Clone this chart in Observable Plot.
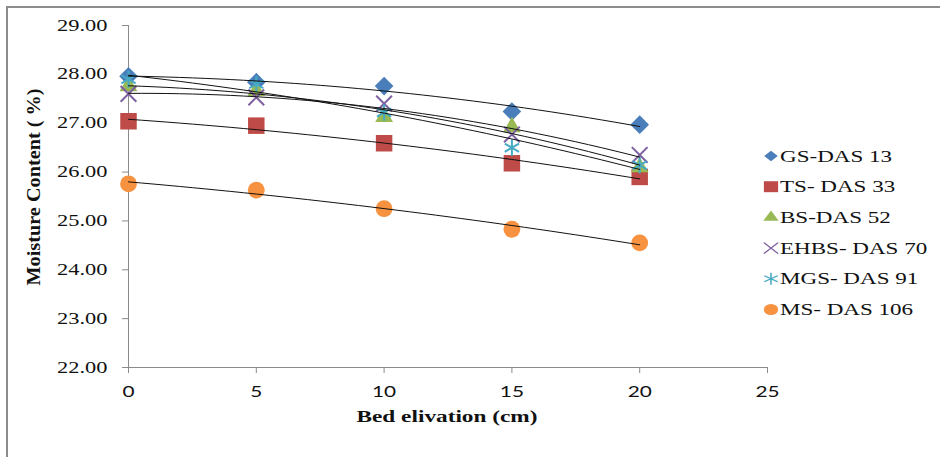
<!DOCTYPE html>
<html><head><meta charset="utf-8">
<script src="https://cdn.jsdelivr.net/npm/d3@7"></script>
<script src="https://cdn.jsdelivr.net/npm/@observablehq/plot@0.6"></script>
<style>
html,body{margin:0;padding:0;background:#fff;}
#wrap{position:relative;width:940px;height:457px;overflow:hidden;background:#fff;}
#frame{position:absolute;left:6px;top:6px;right:-10px;bottom:-10px;border-left:2px solid #8c8c8c;border-top:2px solid #8c8c8c;pointer-events:none;}
#legend{position:absolute;left:740px;top:130px;}
</style></head><body><div id="wrap"></div>
<script>
// ---- data ----
const elevation = [0, 5, 10, 15, 20];
const seriesNames = ["GS-DAS 13", "TS- DAS 33", "BS-DAS 52", "EHBS- DAS 70", "MGS- DAS 91", "MS- DAS 106"];
const gsDas13   = [27.96, 27.84, 27.76, 27.24, 26.97];
const tsDas33   = [27.04, 26.95, 26.59, 26.18, 25.90];
const bsDas52   = [27.76, 27.66, 27.13, 26.92, 26.10];
const ehbsDas70 = [27.60, 27.53, 27.40, 26.77, 26.35];
const mgsDas91  = [27.90, 27.80, 27.22, 26.50, 26.14];
const msDas106  = [25.76, 25.63, 25.25, 24.83, 24.55];
const xTicks = [0, 5, 10, 15, 20, 25];
const yTicks = [22, 23, 24, 25, 26, 27, 28, 29];
const xTitle = "Bed elivation (cm)";
const yTitle = "Moisture Content ( %)";

// ---- styles ----
const seriesValues = [gsDas13, tsDas33, bsDas52, ehbsDas70, mgsDas91, msDas106];
const styles = [
  {symbol: "diamond2", color: "#4a7ebb", r: 8.4, filled: true, d3s: d3.symbolDiamond2, ls: 70},
  {symbol: "square", color: "#be4b48", r: 9.3, filled: true, d3s: d3.symbolSquare, ls: 120},
  {symbol: "triangle", color: "#98b954", r: 6.6, filled: true, d3s: d3.symbolTriangle, ls: 60},
  {symbol: "times", color: "#7d60a0", r: 7.2, filled: false, d3s: d3.symbolTimes, ls: 80},
  {symbol: "asterisk", color: "#46aac5", r: 7.8, filled: false, d3s: d3.symbolAsterisk, ls: 100},
  {symbol: "circle", color: "#f69240", r: 8.4, filled: true, d3s: d3.symbolCircle, ls: 95}
];

const points = [];
seriesNames.forEach((name, i) => elevation.forEach((x, j) => points.push({series: name, x, y: seriesValues[i][j]})));

// polynomial (order 2) trend line, least squares, like the spreadsheet trendline
function quadFit(xs, ys) {
  const n = xs.length;
  let s = [0,0,0,0,0], t = [0,0,0];
  for (let k = 0; k < n; k++) {
    const x = xs[k], y = ys[k];
    for (let p = 0; p < 5; p++) s[p] += Math.pow(x, p);
    for (let p = 0; p < 3; p++) t[p] += Math.pow(x, p) * y;
  }
  const A = [[s[0], s[1], s[2], t[0]], [s[1], s[2], s[3], t[1]], [s[2], s[3], s[4], t[2]]];
  for (let c = 0; c < 3; c++) {
    for (let r = c + 1; r < 3; r++) {
      const f = A[r][c] / A[c][c];
      for (let k = c; k < 4; k++) A[r][k] -= f * A[c][k];
    }
  }
  const b = [0,0,0];
  for (let r = 2; r >= 0; r--) {
    let v = A[r][3];
    for (let k = r + 1; k < 3; k++) v -= A[r][k] * b[k];
    b[r] = v / A[r][r];
  }
  return x => b[0] + b[1] * x + b[2] * x * x;
}
const trend = [];
seriesNames.forEach((name, i) => {
  const f = quadFit(elevation, seriesValues[i]);
  const x0 = d3.min(elevation), x1 = d3.max(elevation);
  for (let k = 0; k <= 40; k++) { const x = x0 + (x1 - x0) * k / 40; trend.push({series: name, x, y: f(x)}); }
});

const axisColor = "#8a8a8a";
const marks = [
  Plot.ruleX([0], {y1: 22, y2: 29, stroke: axisColor, strokeWidth: 1}),
  Plot.ruleY([22], {x1: 0, x2: 25, stroke: axisColor, strokeWidth: 1}),
  Plot.axisY({ticks: yTicks, tickFormat: d => d.toFixed(2), tickSize: 6, tickPadding: 15, stroke: axisColor,
              fontSize: 16, fontFamily: "Liberation Serif", fill: "#111", label: null}),
  Plot.axisX({ticks: xTicks, tickFormat: d => String(d), tickSize: 6, tickPadding: 12, stroke: axisColor,
              fontSize: 16, fontFamily: "Lato", fill: "#111", label: null})
];
seriesNames.forEach((name, i) => {
  const st = styles[i];
  const data = points.filter(p => p.series === name);
  marks.push(Plot.dot(data, st.filled
    ? {x: "x", y: "y", symbol: st.symbol, r: st.r, fill: st.color, stroke: "none"}
    : {x: "x", y: "y", symbol: st.symbol, r: st.r, fill: "none", stroke: st.color, strokeWidth: 2}));
});
marks.push(Plot.line(trend, {x: "x", y: "y", z: "series", stroke: "#111", strokeWidth: 1}));

const chart = Plot.plot({
  width: 940, height: 457,
  marginLeft: 128, marginRight: 173, marginTop: 25, marginBottom: 90,
  x: {domain: [0, 25]},
  y: {domain: [22, 29]},
  style: {background: "#fff"},
  marks
});
const wrap = document.getElementById("wrap");
wrap.appendChild(chart);

const svg = d3.select(chart);
function stretch(sel, k) {
  sel.each(function() {
    const l = this.getComputedTextLength();
    this.setAttribute("textLength", l * k);
    this.setAttribute("lengthAdjust", "spacingAndGlyphs");
  });
}
stretch(svg.selectAll('g[aria-label="y-axis tick label"] text'), 1.4);
stretch(svg.selectAll('g[aria-label="x-axis tick label"] text'), 1.3);

// axis titles
svg.append("text").attr("x", 447).attr("y", 422).attr("text-anchor", "middle")
  .attr("font-family", "Liberation Serif").attr("font-weight", "bold").attr("font-size", 17).attr("fill", "#111")
  .attr("textLength", 181).attr("lengthAdjust", "spacingAndGlyphs").text(xTitle);
svg.append("text").attr("transform", "translate(40,187) rotate(-90)").attr("text-anchor", "middle")
  .attr("font-family", "Liberation Serif").attr("font-weight", "bold").attr("font-size", 18).attr("fill", "#111")
  .attr("textLength", 197).attr("lengthAdjust", "spacingAndGlyphs").text(yTitle);

// legend
const leg = d3.select(wrap).append("svg").attr("id", "legend").attr("width", 200).attr("height", 200);
seriesNames.forEach((name, i) => {
  const st = styles[i];
  const cy = 26 + i * 30.7;
  const g = leg.append("g").attr("transform", `translate(31,${cy}) scale(1.3,1)`);
  const p = g.append("path").attr("d", d3.symbol(st.d3s, st.ls)());
  if (st.filled) p.attr("fill", st.color); else p.attr("fill", "none").attr("stroke", st.color).attr("stroke-width", 1.2);
  const t = leg.append("text").attr("x", 40).attr("y", cy + 5.5)
    .attr("font-family", "Liberation Serif").attr("font-size", 16).attr("fill", "#111").text(name);
  stretch(t, 1.44);
});

// outer frame lines
const fr = document.createElement("div"); fr.id = "frame"; wrap.appendChild(fr);
</script></body></html>
